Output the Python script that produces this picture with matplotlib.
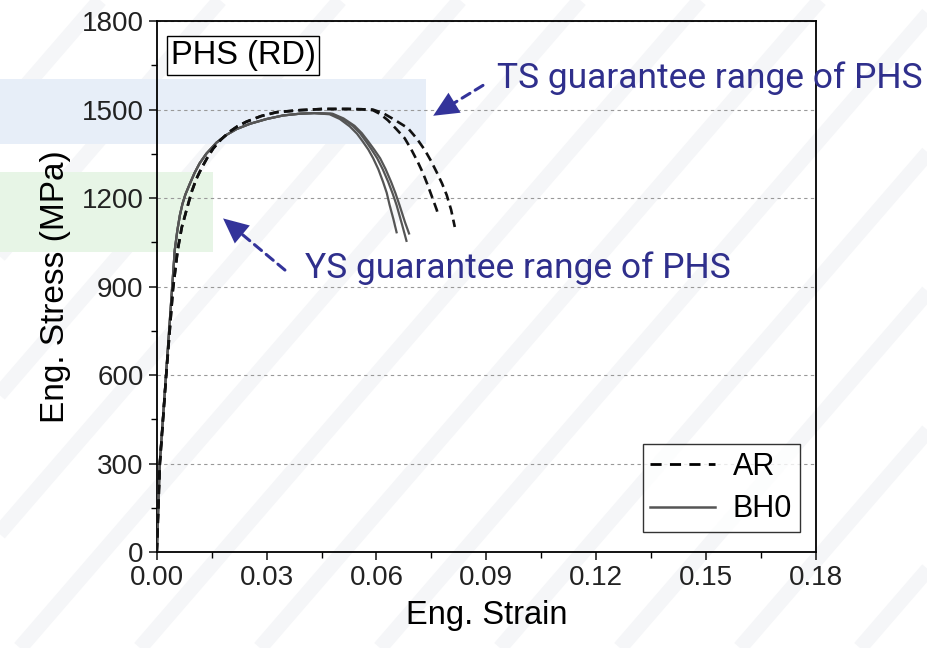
import numpy as np
import matplotlib
matplotlib.use('agg')
import matplotlib.pyplot as plt
from matplotlib.patches import Rectangle

plt.rcParams['font.family'] = ['Liberation Sans', 'DejaVu Sans']

# BH0: common loading branch, then three separate necking tails
bh0_rise_strain = [0, 0.0008, 0.0025, 0.0042, 0.0049, 0.0056, 0.0063, 0.0070, 0.0078, 0.0090,
                   0.0103, 0.0117, 0.0135, 0.0163, 0.0190, 0.0218, 0.0255, 0.0300, 0.0345,
                   0.0391, 0.0430]
bh0_rise_stress = [0, 300, 600, 900, 1024, 1090, 1142, 1180, 1212, 1248,
                   1285, 1318, 1350, 1388, 1414, 1434, 1452, 1468, 1480,
                   1486, 1488]
bh0_tail_strain = [
    [0.0472, 0.0500, 0.0527, 0.0547, 0.0563, 0.0578, 0.0591, 0.0605, 0.0618, 0.0628, 0.0636, 0.0646, 0.0655],
    [0.0475, 0.0505, 0.0535, 0.0555, 0.0572, 0.0587, 0.0602, 0.0617, 0.0632, 0.0644, 0.0655, 0.0670, 0.0682],
    [0.0480, 0.0510, 0.0540, 0.0560, 0.0578, 0.0594, 0.0610, 0.0625, 0.0640, 0.0652, 0.0663, 0.0678, 0.0689],
]
bh0_tail_stress = [
    [1484, 1468, 1443, 1418, 1391, 1364, 1335, 1298, 1255, 1218, 1176, 1130, 1084],
    [1486, 1470, 1445, 1420, 1391, 1364, 1335, 1298, 1255, 1216, 1176, 1110, 1055],
    [1486, 1470, 1445, 1420, 1391, 1364, 1335, 1298, 1255, 1216, 1176, 1118, 1080],
]

# AR: common loading branch, then two tails
ar_rise_strain = [0, 0.0008, 0.0025, 0.0044, 0.0057, 0.0068, 0.0081, 0.0095, 0.0108, 0.0122,
                  0.0138, 0.0154, 0.0175, 0.0199, 0.0220, 0.0245, 0.0285, 0.0327, 0.0391,
                  0.0453, 0.0520, 0.0560]
ar_rise_stress = [0, 295, 590, 890, 1024, 1100, 1159, 1221, 1265, 1301,
                  1337, 1368, 1398, 1425, 1443, 1459, 1478, 1491, 1498,
                  1502, 1502, 1501]
ar_tail_strain = [
    [0.0590, 0.0610, 0.0631, 0.0655, 0.0677, 0.0695, 0.0713, 0.0727, 0.0740, 0.0753, 0.0765, 0.0767],
    [0.0590, 0.0618, 0.0650, 0.0686, 0.0710, 0.0732, 0.0749, 0.0764, 0.0779, 0.0792, 0.0804, 0.0814],
]
ar_tail_stress = [
    [1498, 1485, 1464, 1433, 1403, 1365, 1322, 1285, 1244, 1200, 1159, 1149],
    [1500, 1488, 1465, 1437, 1402, 1363, 1326, 1289, 1250, 1210, 1160, 1102],
]

ts_range = (1382, 1605)
ys_range = (1016, 1289)

fig = plt.figure(figsize=(9.28, 6.48), dpi=100)

# faint diagonal stripes in the background
bg = fig.add_axes([0, 0, 1, 1], zorder=-5)
bg.set_xlim(0, 928)
bg.set_ylim(0, 648)
bg.axis('off')
for x0 in range(-700, 1000, 120):
    bg.plot([x0, x0 + 560], [0, 648], color='#f5f6f8', lw=11, solid_capstyle='butt')

ax = fig.add_axes([0.169, 0.148, 0.710, 0.8195])
ax.set_facecolor('none')

# guarantee ranges (extend to figure's left edge)
ax.add_patch(Rectangle((-0.06, ts_range[0]), 0.06 + 0.0735, ts_range[1] - ts_range[0],
                       facecolor='#e7eef8', edgecolor='none', clip_on=False, zorder=0))
ax.add_patch(Rectangle((-0.06, ys_range[0]), 0.06 + 0.0154, ys_range[1] - ys_range[0],
                       facecolor='#e7f5e6', edgecolor='none', clip_on=False, zorder=0))

solid_c = '#555555'
for s, t in zip(bh0_tail_strain, bh0_tail_stress):
    ax.plot(bh0_rise_strain + s, bh0_rise_stress + t, color=solid_c, lw=1.6, zorder=3)
for s, t in zip(ar_tail_strain, ar_tail_stress):
    ax.plot(ar_rise_strain + s, ar_rise_stress + t, color='#111111', lw=1.9,
            dashes=(3.5, 2), zorder=4)

ax.set_xlim(0, 0.18)
ax.set_ylim(0, 1800)
ax.set_xticks(np.arange(0, 0.181, 0.03))
ax.set_xticks(np.arange(0.015, 0.18, 0.03), minor=True)
ax.set_yticks(np.arange(0, 1801, 300))
ax.set_yticks(np.arange(150, 1800, 300), minor=True)
ax.xaxis.set_major_formatter(matplotlib.ticker.FormatStrFormatter('%.2f'))
ax.tick_params(which='major', direction='out', length=6, width=1.2, labelsize=20, colors='#222222')
ax.tick_params(which='minor', direction='out', length=4, width=1.0)
for sp in ax.spines.values():
    sp.set_linewidth(1.3)
ax.grid(axis='y', which='major', color='#999999', lw=0.8, linestyle=(0, (3, 3)), zorder=1)
ax.set_axisbelow(True)

ax.set_xlabel('Eng. Strain', fontsize=23.5, labelpad=6)
ax.set_ylabel('Eng. Stress (MPa)', fontsize=24, labelpad=8)

ax.text(0.021, 0.965, 'PHS (RD)', transform=ax.transAxes, fontsize=23.5, va='top', ha='left',
        bbox=dict(boxstyle='square,pad=0.12', facecolor='white', edgecolor='black', lw=1.0), zorder=6)

# legend proxies
ax.plot([], [], color='black', lw=2.0, dashes=(4, 3), label='AR')
ax.plot([], [], color=solid_c, lw=1.8, label='BH0')
leg = ax.legend(loc='lower right', bbox_to_anchor=(0.976, 0.038), borderaxespad=0,
                fontsize=22, frameon=True, fancybox=False, handlelength=2.1,
                handletextpad=0.6, labelspacing=0.4, borderpad=0.25)
leg.get_frame().set_edgecolor('black')
leg.get_frame().set_linewidth(1.0)

ann_c = '#2f2f8c'
arr_c = '#33339a'


def dashed_arrow(tip, tail):
    # dashed shaft plus a solid filled head
    ax.annotate('', xy=tip, xytext=tail, zorder=5,
                arrowprops=dict(arrowstyle='-', color=arr_c, lw=2.2, linestyle=(0, (3, 2)),
                                shrinkA=0, shrinkB=10))
    ax.annotate('', xy=tip, xytext=tail, zorder=5,
                arrowprops=dict(arrowstyle='-|>,head_length=0.9,head_width=0.42', color=arr_c,
                                lw=0.01, mutation_scale=20, shrinkA=0, shrinkB=0,
                                patchA=None))


dashed_arrow((0.0755, 1479), (0.0891, 1582))
dashed_arrow((0.0181, 1131), (0.0350, 956))
ax.text(0.0929, 1607, 'TS guarantee range of PHS', fontsize=25.5, color=ann_c,
        family=['Roboto', 'DejaVu Sans'], va='center', ha='left', zorder=6)
ax.text(0.0404, 963, 'YS guarantee range of PHS', fontsize=25.5, color=ann_c,
        family=['Roboto', 'DejaVu Sans'], va='center', ha='left', zorder=6)

fig.savefig('out.png', dpi=100)
